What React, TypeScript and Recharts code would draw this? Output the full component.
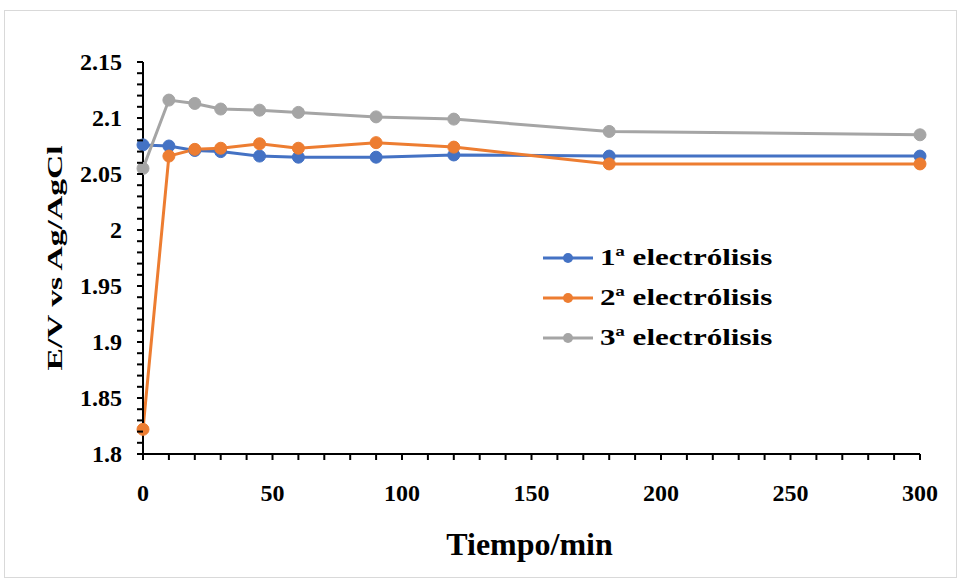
import { LineChart, Line, XAxis, YAxis } from 'recharts';

// Tiempo (min) de cada medida
const tiempos = [0, 10, 20, 30, 45, 60, 90, 120, 180, 300];

// Potencial E/V vs Ag/AgCl
const electrolisis1 = [2.076, 2.075, 2.071, 2.07, 2.066, 2.065, 2.065, 2.067, 2.066, 2.066];
const electrolisis2 = [1.822, 2.066, 2.072, 2.073, 2.077, 2.073, 2.078, 2.074, 2.059, 2.059];
const electrolisis3 = [2.055, 2.116, 2.113, 2.108, 2.107, 2.105, 2.101, 2.099, 2.088, 2.085];

const seriesNames = ['1ª electrólisis', '2ª electrólisis', '3ª electrólisis'];
const seriesColors = ['#4472C4', '#ED7D31', '#A5A5A5'];

const yMajorTicks = [1.8, 1.85, 1.9, 1.95, 2, 2.05, 2.1, 2.15];
const xMajorTicks = [0, 50, 100, 150, 200, 250, 300];

// minor ticks: 0.01 on y, 10 min on x
const yTicks = Array.from({ length: 36 }, (_, i) => Math.round((1.8 + i * 0.01) * 100) / 100);
const xTicks = Array.from({ length: 31 }, (_, i) => i * 10);

const data = tiempos.map((t, i) => ({
  t,
  e1: electrolisis1[i],
  e2: electrolisis2[i],
  e3: electrolisis3[i],
}));

const FONT = '"Liberation Serif", "Times New Roman", serif';
const TICK_LEN = 6;
const Y_GAP = 15;
const X_GAP = 24;

// tick mark drawn here too, so the minor ticks show up without labels
const YTick = ({ x, y, payload }: any) => {
  const v = payload.value as number;
  const major = yMajorTicks.some((m) => Math.abs(m - v) < 1e-6);
  const ax = x + Y_GAP + TICK_LEN;
  return (
    <g>
      <line x1={ax - TICK_LEN} x2={ax} y1={y} y2={y} stroke="#000" strokeWidth={2} />
      {major && (
        <text x={x} y={y} textAnchor="end" dominantBaseline="central" fontFamily={FONT} fontWeight="bold" fontSize={24} fill="#000">
          {String(Number(v.toFixed(2)))}
        </text>
      )}
    </g>
  );
};

const XTick = ({ x, y, payload }: any) => {
  const v = payload.value as number;
  const major = xMajorTicks.includes(v);
  const ay = y - X_GAP - TICK_LEN;
  return (
    <g>
      <line x1={x} x2={x} y1={ay} y2={ay + TICK_LEN} stroke="#000" strokeWidth={2} />
      {major && (
        <text x={x} y={y} dy="0.71em" textAnchor="middle" fontFamily={FONT} fontWeight="bold" fontSize={24} fill="#000">
          {v}
        </text>
      )}
    </g>
  );
};

const YLabel = ({ viewBox }: any) => {
  const cy = viewBox.y + viewBox.height / 2;
  return (
    <text
      x={57}
      y={cy}
      transform={`rotate(-90, 57, ${cy})`}
      textAnchor="middle"
      fontFamily={FONT}
      fontWeight="bold"
      fontSize={21}
      textLength={225}
      lengthAdjust="spacingAndGlyphs"
      fill="#000"
    >
      E/V vs Ag/AgCl
    </text>
  );
};

const XLabel = ({ viewBox }: any) => (
  <text x={viewBox.x + viewBox.width / 2 - 2} y={544} textAnchor="middle" fontFamily={FONT} fontWeight="bold" fontSize={32} fill="#000">
    Tiempo/min
  </text>
);

const ChartLegend = () => (
  <div style={{ position: 'absolute', left: 538, top: 227 }}>
    {seriesNames.map((name, i) => (
      <div key={name} style={{ display: 'flex', alignItems: 'center', height: 40 }}>
        <svg width={50} height={20}>
          <line x1={0} y1={10} x2={50} y2={10} stroke={seriesColors[i]} strokeWidth={3} />
          <circle cx={25} cy={10} r={5} fill={seriesColors[i]} />
        </svg>
        <span
          style={{
            marginLeft: 7,
            fontFamily: FONT,
            fontWeight: 'bold',
            fontSize: 23,
            color: '#000',
            display: 'inline-block',
            transform: 'scaleX(1.35)',
            transformOrigin: 'left center',
            whiteSpace: 'nowrap',
          }}
        >
          {name}
        </span>
      </div>
    ))}
  </div>
);

export default function App() {
  const keys = ['e1', 'e2', 'e3'];
  return (
    <div
      style={{
        position: 'absolute',
        left: 4,
        top: 10,
        width: 953,
        height: 568,
        border: '1px solid #d9d9d9',
        boxSizing: 'border-box',
        background: '#fff',
      }}
    >
      <LineChart width={951} height={566} data={data} margin={{ top: 51, right: 36, left: 68, bottom: 83 }}>
        <XAxis
          dataKey="t"
          type="number"
          domain={[0, 300]}
          ticks={xTicks}
          interval={0}
          tick={<XTick />}
          tickSize={TICK_LEN}
          tickMargin={X_GAP}
          tickLine={false}
          height={40}
          axisLine={{ stroke: '#000', strokeWidth: 2 }}
          label={<XLabel />}
        />
        <YAxis
          type="number"
          domain={[1.8, 2.15]}
          ticks={yTicks}
          interval={0}
          tick={<YTick />}
          tickSize={TICK_LEN}
          tickMargin={Y_GAP}
          tickLine={false}
          width={70}
          axisLine={{ stroke: '#000', strokeWidth: 2 }}
          label={<YLabel />}
        />
        {keys.map((k, i) => (
          <Line
            key={k}
            type="linear"
            dataKey={k}
            name={seriesNames[i]}
            stroke={seriesColors[i]}
            strokeWidth={3}
            dot={{ r: 6, fill: seriesColors[i], stroke: seriesColors[i], strokeWidth: 1 }}
            isAnimationActive={false}
          />
        ))}
      </LineChart>
      <ChartLegend />
    </div>
  );
}
